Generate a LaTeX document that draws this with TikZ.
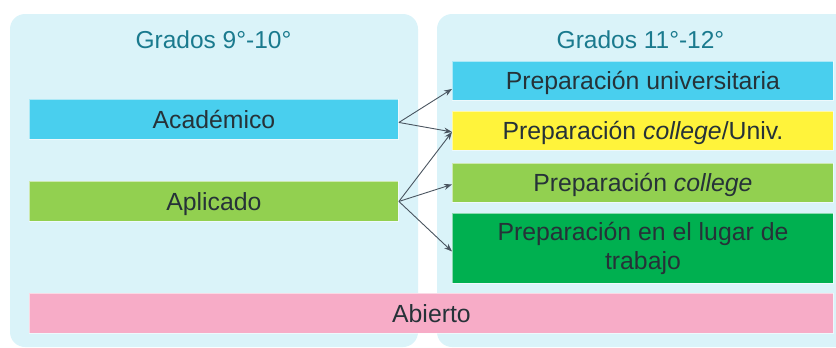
\documentclass[tikz,border=0pt]{standalone}
\usepackage{fontspec}
\setmainfont{Liberation Sans}
\usetikzlibrary{arrows.meta}
\definecolor{panelbg}{HTML}{DAF3F9}
\definecolor{cyanbox}{HTML}{49CFEE}
\definecolor{yellowbox}{HTML}{FFF33B}
\definecolor{lgreen}{HTML}{92D050}
\definecolor{dgreen}{HTML}{00B050}
\definecolor{pinkbox}{HTML}{F7ACC7}
\definecolor{titlecol}{HTML}{1A7A8E}
\definecolor{textcol}{HTML}{263238}
\definecolor{arrowcol}{HTML}{4A5560}
\begin{document}
\begin{tikzpicture}[x=1pt,y=-1pt,
  panel/.style={fill=panelbg, draw=none, rounded corners=15pt},
  title/.style={text=titlecol, font=\fontsize{24.5}{28.7}\selectfont, inner sep=0pt,
    text height=24pt, text depth=6.46pt},
  box/.style={anchor=north west, draw=white, draw opacity=0.55, line width=0.9pt,
    text=textcol, font=\fontsize{24.8}{28.7}\selectfont, inner sep=0pt,
    text height=24pt, text depth=6.24pt},
  mbox/.style={anchor=north west, draw=white, draw opacity=0.55, line width=0.9pt,
    text=textcol, font=\fontsize{24.8}{28.7}\selectfont, inner sep=0pt, align=center},
  arr/.style={draw=arrowcol, line width=0.9pt, -{Stealth[length=8pt,width=6pt]}}]
\useasboundingbox (0,0) rectangle (836,348);
\clip (0,0) rectangle (836,348);
% panels
\fill[panel] (10,14) rectangle (418,347);
\fill[panel] (437,14) rectangle (860,347);
% titles
\node[title] (t1) at (213.5,40) {Grados 9°-10°};
\node[title] (t2) at (640.5,40) {Grados 11°-12°};
% left boxes
\node[box, fill=cyanbox, minimum width=369pt, minimum height=40pt] (acad) at (29,99) {Académico};
\node[box, fill=lgreen, minimum width=369pt, minimum height=40pt] (apl) at (29,181) {Aplicado};
% right boxes
\node[box, fill=cyanbox, minimum width=381pt, minimum height=39pt] (pu) at (452,61) {Preparación universitaria};
\node[box, fill=yellowbox, minimum width=381pt, minimum height=39pt] (pcu) at (452,111) {Preparación \textit{college}/Univ.};
\node[box, fill=lgreen, minimum width=381pt, minimum height=39pt] (pc) at (452,163) {Preparación \textit{college}};
\node[mbox, fill=dgreen, minimum width=381pt, minimum height=70pt] (pw) at (452,213) {Preparación en el lugar de\\trabajo};
% bottom
\node[box, fill=pinkbox, minimum width=804pt, minimum height=40pt] (ab) at (29,293) {Abierto};
% arrows
\coordinate (a1) at ([yshift=-3pt]acad.east);
\draw[arr] (a1) -- ([yshift=-8pt]pu.west);
\draw[arr] (a1) -- ([yshift=-1pt]pcu.west);
\draw[arr] (apl.east) -- ([yshift=-1pt]pcu.west);
\draw[arr] (apl.east) -- ([yshift=-1.5pt]pc.west);
\draw[arr] (apl.east) -- ([yshift=-3pt]pw.west);
\end{tikzpicture}
\end{document}
